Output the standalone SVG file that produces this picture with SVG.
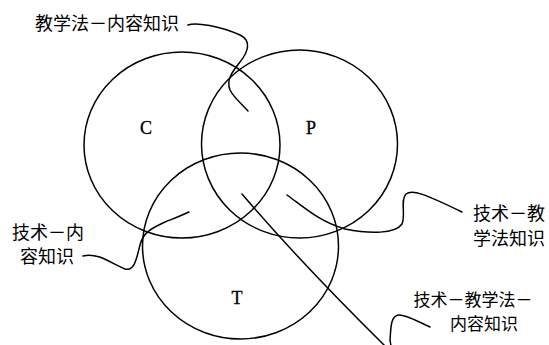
<svg xmlns="http://www.w3.org/2000/svg" width="549" height="345" viewBox="0 0 549 345">
<style>
.c{fill:none;stroke:#000;stroke-width:1.5}
.l{fill:none;stroke:#000;stroke-width:1.5;stroke-linecap:round}
.t{font-family:"Noto Sans CJK SC","Noto Sans",sans-serif;font-size:18px;fill:#000;dominant-baseline:central}
.t2{font-size:17px}
.s{font-family:"Liberation Serif","Times New Roman",serif;font-size:18px;fill:#000;text-anchor:middle;stroke:#000;stroke-width:0.3}
</style>
<rect width="549" height="345" fill="#fff"/>
<g id="C"><ellipse class="c" cx="182" cy="145" rx="98" ry="93"/><text class="s" x="146" y="134">C</text></g>
<g id="P"><ellipse class="c" cx="299.5" cy="144" rx="98" ry="94"/><text class="s" x="311" y="133.5">P</text></g>
<g id="T"><ellipse class="c" cx="240.5" cy="246" rx="98" ry="93"/><text class="s" x="237" y="303.5">T</text></g>
<g id="label-pck"><text class="t" x="35" y="22">教学法－内容知识</text></g>
<g id="label-tpk"><text class="t" x="473" y="212">技术－教</text><text class="t" x="473" y="237">学法知识</text></g>
<g id="label-tck"><text class="t" x="48" y="231" text-anchor="middle">技术－内</text><text class="t" x="47" y="255" text-anchor="middle">容知识</text></g>
<g id="label-tpack"><text class="t t2" x="473" y="298" text-anchor="middle">技术－教学法－</text><text class="t t2" x="484" y="322" text-anchor="middle">内容知识</text></g>
<g id="connectors">
<path class="l" d="M188,25 C196,22 220,26 240,35 C252,41 248,52 240,62 C232,72 226,80 230,90 C234,98 242,104 248,111"/>
<path class="l" d="M287,195 C305,208 320,222 345,229 C370,234 395,234 402,224 C406,215 400,200 406,194 C412,189 425,194 462,212"/>
<path class="l" d="M83,256 C98,252 112,264 125,269 C135,272 137,256 140,245 C143,233 150,229 165,222 C175,218 183,215 189,212"/>
<path class="l" d="M242,194 Q300,262 385,346"/>
<path class="l" d="M430,327 C418,322 406,314 398,315 C390,317 391,330 390,340 L391,346"/>
</g>
</svg>
